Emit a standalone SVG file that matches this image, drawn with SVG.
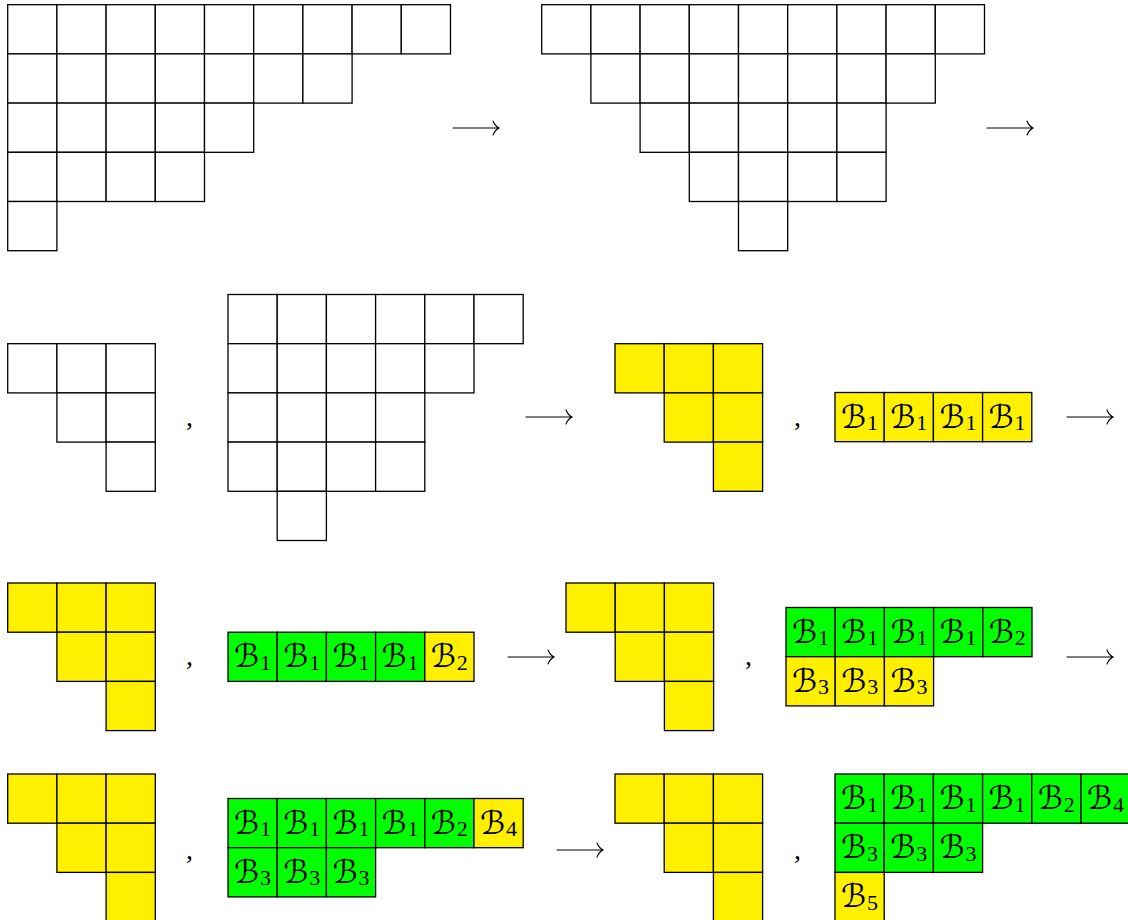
<svg xmlns="http://www.w3.org/2000/svg" width="1128" height="920" viewBox="0 0 1128 920">
<style>
rect{stroke:#000;stroke-width:1.3}
.w{fill:#fff}
.y{fill:#FFF000}
.g{fill:#00FF00}
.lb{font-family:"DejaVu Sans","DejaVu Serif",serif;font-size:32px;font-style:italic;fill:#000}
.sub{font-family:"Liberation Serif",serif;font-size:22px;font-style:normal}
.cm{font-family:"Liberation Serif",serif;font-size:28px;fill:#000}
.ar{fill:none;stroke:#000;stroke-width:1.1;stroke-linecap:round}
</style>
<rect width="1128" height="920" fill="#fff" style="stroke:none"/>

<g id="d1" transform="translate(7.7,4.7)">
<rect class="w" x="0" y="0" width="49.2" height="49.2"/><rect class="w" x="49.2" y="0" width="49.2" height="49.2"/><rect class="w" x="98.4" y="0" width="49.2" height="49.2"/><rect class="w" x="147.6" y="0" width="49.2" height="49.2"/><rect class="w" x="196.8" y="0" width="49.2" height="49.2"/><rect class="w" x="246" y="0" width="49.2" height="49.2"/><rect class="w" x="295.2" y="0" width="49.2" height="49.2"/><rect class="w" x="344.4" y="0" width="49.2" height="49.2"/><rect class="w" x="393.6" y="0" width="49.2" height="49.2"/>
<rect class="w" x="0" y="49.2" width="49.2" height="49.2"/><rect class="w" x="49.2" y="49.2" width="49.2" height="49.2"/><rect class="w" x="98.4" y="49.2" width="49.2" height="49.2"/><rect class="w" x="147.6" y="49.2" width="49.2" height="49.2"/><rect class="w" x="196.8" y="49.2" width="49.2" height="49.2"/><rect class="w" x="246" y="49.2" width="49.2" height="49.2"/><rect class="w" x="295.2" y="49.2" width="49.2" height="49.2"/>
<rect class="w" x="0" y="98.4" width="49.2" height="49.2"/><rect class="w" x="49.2" y="98.4" width="49.2" height="49.2"/><rect class="w" x="98.4" y="98.4" width="49.2" height="49.2"/><rect class="w" x="147.6" y="98.4" width="49.2" height="49.2"/><rect class="w" x="196.8" y="98.4" width="49.2" height="49.2"/>
<rect class="w" x="0" y="147.6" width="49.2" height="49.2"/><rect class="w" x="49.2" y="147.6" width="49.2" height="49.2"/><rect class="w" x="98.4" y="147.6" width="49.2" height="49.2"/><rect class="w" x="147.6" y="147.6" width="49.2" height="49.2"/>
<rect class="w" x="0" y="196.8" width="49.2" height="49.2"/>
</g>

<g id="d2" transform="translate(541.7,4.7)">
<rect class="w" x="0" y="0" width="49.2" height="49.2"/><rect class="w" x="49.2" y="0" width="49.2" height="49.2"/><rect class="w" x="98.4" y="0" width="49.2" height="49.2"/><rect class="w" x="147.6" y="0" width="49.2" height="49.2"/><rect class="w" x="196.8" y="0" width="49.2" height="49.2"/><rect class="w" x="246" y="0" width="49.2" height="49.2"/><rect class="w" x="295.2" y="0" width="49.2" height="49.2"/><rect class="w" x="344.4" y="0" width="49.2" height="49.2"/><rect class="w" x="393.6" y="0" width="49.2" height="49.2"/>
<rect class="w" x="49.2" y="49.2" width="49.2" height="49.2"/><rect class="w" x="98.4" y="49.2" width="49.2" height="49.2"/><rect class="w" x="147.6" y="49.2" width="49.2" height="49.2"/><rect class="w" x="196.8" y="49.2" width="49.2" height="49.2"/><rect class="w" x="246" y="49.2" width="49.2" height="49.2"/><rect class="w" x="295.2" y="49.2" width="49.2" height="49.2"/><rect class="w" x="344.4" y="49.2" width="49.2" height="49.2"/>
<rect class="w" x="98.4" y="98.4" width="49.2" height="49.2"/><rect class="w" x="147.6" y="98.4" width="49.2" height="49.2"/><rect class="w" x="196.8" y="98.4" width="49.2" height="49.2"/><rect class="w" x="246" y="98.4" width="49.2" height="49.2"/><rect class="w" x="295.2" y="98.4" width="49.2" height="49.2"/>
<rect class="w" x="147.6" y="147.6" width="49.2" height="49.2"/><rect class="w" x="196.8" y="147.6" width="49.2" height="49.2"/><rect class="w" x="246" y="147.6" width="49.2" height="49.2"/><rect class="w" x="295.2" y="147.6" width="49.2" height="49.2"/>
<rect class="w" x="196.8" y="196.8" width="49.2" height="49.2"/>
</g>

<g id="d3" transform="translate(7.7,343.7)">
<rect class="w" x="0" y="0" width="49.2" height="49.2"/><rect class="w" x="49.2" y="0" width="49.2" height="49.2"/><rect class="w" x="98.4" y="0" width="49.2" height="49.2"/>
<rect class="w" x="49.2" y="49.2" width="49.2" height="49.2"/><rect class="w" x="98.4" y="49.2" width="49.2" height="49.2"/>
<rect class="w" x="98.4" y="98.4" width="49.2" height="49.2"/>
</g>

<g id="d4" transform="translate(228,294.5)">
<rect class="w" x="0" y="0" width="49.2" height="49.2"/><rect class="w" x="49.2" y="0" width="49.2" height="49.2"/><rect class="w" x="98.4" y="0" width="49.2" height="49.2"/><rect class="w" x="147.6" y="0" width="49.2" height="49.2"/><rect class="w" x="196.8" y="0" width="49.2" height="49.2"/><rect class="w" x="246" y="0" width="49.2" height="49.2"/>
<rect class="w" x="0" y="49.2" width="49.2" height="49.2"/><rect class="w" x="49.2" y="49.2" width="49.2" height="49.2"/><rect class="w" x="98.4" y="49.2" width="49.2" height="49.2"/><rect class="w" x="147.6" y="49.2" width="49.2" height="49.2"/><rect class="w" x="196.8" y="49.2" width="49.2" height="49.2"/>
<rect class="w" x="0" y="98.4" width="49.2" height="49.2"/><rect class="w" x="49.2" y="98.4" width="49.2" height="49.2"/><rect class="w" x="98.4" y="98.4" width="49.2" height="49.2"/><rect class="w" x="147.6" y="98.4" width="49.2" height="49.2"/>
<rect class="w" x="0" y="147.6" width="49.2" height="49.2"/><rect class="w" x="49.2" y="147.6" width="49.2" height="49.2"/><rect class="w" x="98.4" y="147.6" width="49.2" height="49.2"/><rect class="w" x="147.6" y="147.6" width="49.2" height="49.2"/>
<rect class="w" x="49.2" y="196.8" width="49.2" height="49.2"/>
</g>

<g id="y1" transform="translate(615,343.7)">
<rect class="y" x="0" y="0" width="49.2" height="49.2"/><rect class="y" x="49.2" y="0" width="49.2" height="49.2"/><rect class="y" x="98.4" y="0" width="49.2" height="49.2"/>
<rect class="y" x="49.2" y="49.2" width="49.2" height="49.2"/><rect class="y" x="98.4" y="49.2" width="49.2" height="49.2"/>
<rect class="y" x="98.4" y="98.4" width="49.2" height="49.2"/>
</g>

<g id="t1" transform="translate(835,392.5)">
<rect class="y" x="0" y="0" width="49.2" height="49.2"/><rect class="y" x="49.2" y="0" width="49.2" height="49.2"/><rect class="y" x="98.4" y="0" width="49.2" height="49.2"/><rect class="y" x="147.6" y="0" width="49.2" height="49.2"/>
<text class="lb" y="35"><tspan x="6">ℬ</tspan><tspan class="sub" x="32" y="37.5">1</tspan></text>
<text class="lb" y="35"><tspan x="55.2">ℬ</tspan><tspan class="sub" x="81.2" y="37.5">1</tspan></text>
<text class="lb" y="35"><tspan x="104.4">ℬ</tspan><tspan class="sub" x="130.4" y="37.5">1</tspan></text>
<text class="lb" y="35"><tspan x="153.6">ℬ</tspan><tspan class="sub" x="179.6" y="37.5">1</tspan></text>
</g>

<g id="y2" transform="translate(7.7,583)">
<rect class="y" x="0" y="0" width="49.2" height="49.2"/><rect class="y" x="49.2" y="0" width="49.2" height="49.2"/><rect class="y" x="98.4" y="0" width="49.2" height="49.2"/>
<rect class="y" x="49.2" y="49.2" width="49.2" height="49.2"/><rect class="y" x="98.4" y="49.2" width="49.2" height="49.2"/>
<rect class="y" x="98.4" y="98.4" width="49.2" height="49.2"/>
</g>

<g id="t2" transform="translate(228,632.2)">
<rect class="g" x="0" y="0" width="49.2" height="49.2"/><rect class="g" x="49.2" y="0" width="49.2" height="49.2"/><rect class="g" x="98.4" y="0" width="49.2" height="49.2"/><rect class="g" x="147.6" y="0" width="49.2" height="49.2"/><rect class="y" x="196.8" y="0" width="49.2" height="49.2"/>
<text class="lb" y="35"><tspan x="6">ℬ</tspan><tspan class="sub" x="32" y="37.5">1</tspan></text>
<text class="lb" y="35"><tspan x="55.2">ℬ</tspan><tspan class="sub" x="81.2" y="37.5">1</tspan></text>
<text class="lb" y="35"><tspan x="104.4">ℬ</tspan><tspan class="sub" x="130.4" y="37.5">1</tspan></text>
<text class="lb" y="35"><tspan x="153.6">ℬ</tspan><tspan class="sub" x="179.6" y="37.5">1</tspan></text>
<text class="lb" y="35"><tspan x="202.8">ℬ</tspan><tspan class="sub" x="228.8" y="37.5">2</tspan></text>
</g>

<g id="y3" transform="translate(566,583)">
<rect class="y" x="0" y="0" width="49.2" height="49.2"/><rect class="y" x="49.2" y="0" width="49.2" height="49.2"/><rect class="y" x="98.4" y="0" width="49.2" height="49.2"/>
<rect class="y" x="49.2" y="49.2" width="49.2" height="49.2"/><rect class="y" x="98.4" y="49.2" width="49.2" height="49.2"/>
<rect class="y" x="98.4" y="98.4" width="49.2" height="49.2"/>
</g>

<g id="t3" transform="translate(786,607.5)">
<rect class="g" x="0" y="0" width="49.2" height="49.2"/><rect class="g" x="49.2" y="0" width="49.2" height="49.2"/><rect class="g" x="98.4" y="0" width="49.2" height="49.2"/><rect class="g" x="147.6" y="0" width="49.2" height="49.2"/><rect class="g" x="196.8" y="0" width="49.2" height="49.2"/>
<rect class="y" x="0" y="49.2" width="49.2" height="49.2"/><rect class="y" x="49.2" y="49.2" width="49.2" height="49.2"/><rect class="y" x="98.4" y="49.2" width="49.2" height="49.2"/>
<text class="lb" y="35"><tspan x="6">ℬ</tspan><tspan class="sub" x="32" y="37.5">1</tspan></text>
<text class="lb" y="35"><tspan x="55.2">ℬ</tspan><tspan class="sub" x="81.2" y="37.5">1</tspan></text>
<text class="lb" y="35"><tspan x="104.4">ℬ</tspan><tspan class="sub" x="130.4" y="37.5">1</tspan></text>
<text class="lb" y="35"><tspan x="153.6">ℬ</tspan><tspan class="sub" x="179.6" y="37.5">1</tspan></text>
<text class="lb" y="35"><tspan x="202.8">ℬ</tspan><tspan class="sub" x="228.8" y="37.5">2</tspan></text>
<text class="lb" y="84.2"><tspan x="6">ℬ</tspan><tspan class="sub" x="32" y="86.7">3</tspan></text>
<text class="lb" y="84.2"><tspan x="55.2">ℬ</tspan><tspan class="sub" x="81.2" y="86.7">3</tspan></text>
<text class="lb" y="84.2"><tspan x="104.4">ℬ</tspan><tspan class="sub" x="130.4" y="86.7">3</tspan></text>
</g>

<g id="y4" transform="translate(7.7,774)">
<rect class="y" x="0" y="0" width="49.2" height="49.2"/><rect class="y" x="49.2" y="0" width="49.2" height="49.2"/><rect class="y" x="98.4" y="0" width="49.2" height="49.2"/>
<rect class="y" x="49.2" y="49.2" width="49.2" height="49.2"/><rect class="y" x="98.4" y="49.2" width="49.2" height="49.2"/>
<rect class="y" x="98.4" y="98.4" width="49.2" height="49.2"/>
</g>

<g id="t4" transform="translate(228,798.5)">
<rect class="g" x="0" y="0" width="49.2" height="49.2"/><rect class="g" x="49.2" y="0" width="49.2" height="49.2"/><rect class="g" x="98.4" y="0" width="49.2" height="49.2"/><rect class="g" x="147.6" y="0" width="49.2" height="49.2"/><rect class="g" x="196.8" y="0" width="49.2" height="49.2"/><rect class="y" x="246" y="0" width="49.2" height="49.2"/>
<rect class="g" x="0" y="49.2" width="49.2" height="49.2"/><rect class="g" x="49.2" y="49.2" width="49.2" height="49.2"/><rect class="g" x="98.4" y="49.2" width="49.2" height="49.2"/>
<text class="lb" y="35"><tspan x="6">ℬ</tspan><tspan class="sub" x="32" y="37.5">1</tspan></text>
<text class="lb" y="35"><tspan x="55.2">ℬ</tspan><tspan class="sub" x="81.2" y="37.5">1</tspan></text>
<text class="lb" y="35"><tspan x="104.4">ℬ</tspan><tspan class="sub" x="130.4" y="37.5">1</tspan></text>
<text class="lb" y="35"><tspan x="153.6">ℬ</tspan><tspan class="sub" x="179.6" y="37.5">1</tspan></text>
<text class="lb" y="35"><tspan x="202.8">ℬ</tspan><tspan class="sub" x="228.8" y="37.5">2</tspan></text>
<text class="lb" y="35"><tspan x="252">ℬ</tspan><tspan class="sub" x="278" y="37.5">4</tspan></text>
<text class="lb" y="84.2"><tspan x="6">ℬ</tspan><tspan class="sub" x="32" y="86.7">3</tspan></text>
<text class="lb" y="84.2"><tspan x="55.2">ℬ</tspan><tspan class="sub" x="81.2" y="86.7">3</tspan></text>
<text class="lb" y="84.2"><tspan x="104.4">ℬ</tspan><tspan class="sub" x="130.4" y="86.7">3</tspan></text>
</g>

<g id="y5" transform="translate(615,774)">
<rect class="y" x="0" y="0" width="49.2" height="49.2"/><rect class="y" x="49.2" y="0" width="49.2" height="49.2"/><rect class="y" x="98.4" y="0" width="49.2" height="49.2"/>
<rect class="y" x="49.2" y="49.2" width="49.2" height="49.2"/><rect class="y" x="98.4" y="49.2" width="49.2" height="49.2"/>
<rect class="y" x="98.4" y="98.4" width="49.2" height="49.2"/>
</g>

<g id="t5" transform="translate(835,774)">
<rect class="g" x="0" y="0" width="49.2" height="49.2"/><rect class="g" x="49.2" y="0" width="49.2" height="49.2"/><rect class="g" x="98.4" y="0" width="49.2" height="49.2"/><rect class="g" x="147.6" y="0" width="49.2" height="49.2"/><rect class="g" x="196.8" y="0" width="49.2" height="49.2"/><rect class="g" x="246" y="0" width="49.2" height="49.2"/>
<rect class="g" x="0" y="49.2" width="49.2" height="49.2"/><rect class="g" x="49.2" y="49.2" width="49.2" height="49.2"/><rect class="g" x="98.4" y="49.2" width="49.2" height="49.2"/>
<rect class="y" x="0" y="98.4" width="49.2" height="49.2"/>
<text class="lb" y="35"><tspan x="6">ℬ</tspan><tspan class="sub" x="32" y="37.5">1</tspan></text>
<text class="lb" y="35"><tspan x="55.2">ℬ</tspan><tspan class="sub" x="81.2" y="37.5">1</tspan></text>
<text class="lb" y="35"><tspan x="104.4">ℬ</tspan><tspan class="sub" x="130.4" y="37.5">1</tspan></text>
<text class="lb" y="35"><tspan x="153.6">ℬ</tspan><tspan class="sub" x="179.6" y="37.5">1</tspan></text>
<text class="lb" y="35"><tspan x="202.8">ℬ</tspan><tspan class="sub" x="228.8" y="37.5">2</tspan></text>
<text class="lb" y="35"><tspan x="252">ℬ</tspan><tspan class="sub" x="278" y="37.5">4</tspan></text>
<text class="lb" y="84.2"><tspan x="6">ℬ</tspan><tspan class="sub" x="32" y="86.7">3</tspan></text>
<text class="lb" y="84.2"><tspan x="55.2">ℬ</tspan><tspan class="sub" x="81.2" y="86.7">3</tspan></text>
<text class="lb" y="84.2"><tspan x="104.4">ℬ</tspan><tspan class="sub" x="130.4" y="86.7">3</tspan></text>
<text class="lb" y="133.4"><tspan x="6">ℬ</tspan><tspan class="sub" x="32" y="135.9">5</tspan></text>
</g>

<g id="commas">
<text class="cm" x="186" y="426">,</text>
<text class="cm" x="794" y="426">,</text>
<text class="cm" x="186" y="665">,</text>
<text class="cm" x="745" y="665">,</text>
<text class="cm" x="186" y="859">,</text>
<text class="cm" x="794" y="859">,</text>
</g>

<g id="connectors">
<path class="ar" d="M453,128H499M493,121Q495,126 499,128Q495,130 493,135"/>
<path class="ar" d="M987,128H1033M1027,121Q1029,126 1033,128Q1029,130 1027,135"/>
<path class="ar" d="M526,417H572M566,410Q568,415 572,417Q568,419 566,424"/>
<path class="ar" d="M1067,417H1113M1107,410Q1109,415 1113,417Q1109,419 1107,424"/>
<path class="ar" d="M508,657H554M548,650Q550,655 554,657Q550,659 548,664"/>
<path class="ar" d="M1067,657H1113M1107,650Q1109,655 1113,657Q1109,659 1107,664"/>
<path class="ar" d="M557,850H603M597,843Q599,848 603,850Q599,852 597,857"/>
</g>
</svg>
